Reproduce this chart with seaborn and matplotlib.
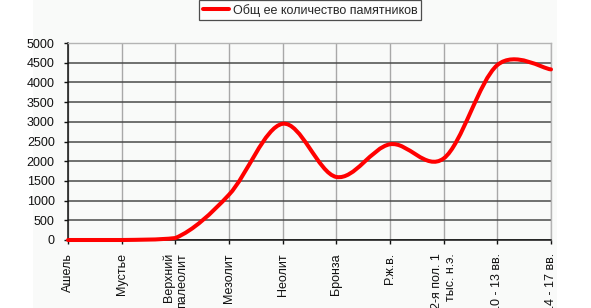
import numpy as np
import matplotlib
matplotlib.use("Agg")
import matplotlib.pyplot as plt
from matplotlib.path import Path
from matplotlib.patches import PathPatch, Rectangle
from matplotlib.lines import Line2D
import seaborn as sns

categories = ["Ашель", "Мустье", "Верхний\nпалеолит", "Мезолит", "Неолит",
              "Бронза", "Р.ж.в.", "2-я пол. 1\nтыс. н.э.", "10 - 13 вв.", "14 - 17 вв."]
values = [0, 0, 50, 1150, 2950, 1600, 2430, 2070, 4440, 4330]
yticks = [0, 500, 1000, 1500, 2000, 2500, 3000, 3500, 4000, 4500, 5000]
series_name = "Общ ее количество памятников"

sns.set_style("white")
plt.rcParams["font.family"] = ["Liberation Sans", "DejaVu Sans"]

W, H = 591, 308
fig = plt.figure(figsize=(W / 100, H / 100), dpi=100)
fig.patch.set_facecolor("white")
# faint chart-area background
fig.patches.append(Rectangle((33 / W, 0), (557 - 33) / W, 1, transform=fig.transFigure,
                             facecolor="#f9faf9", edgecolor="none", zorder=-10))

ax = fig.add_axes([68 / W, (H - 240) / H, (551 - 68) / W, (240 - 43) / H])
ax.set_facecolor("none")

xs = np.arange(len(values))
sns.lineplot(x=xs, y=values, ax=ax, linewidth=0, legend=False)

# Excel-style smoothed line (cubic Bezier segments through the data points)
pts = np.column_stack([xs, np.asarray(values, dtype=float)])
ymin = pts[:, 1].min()
n = len(pts)
verts = [tuple(pts[0])]
codes = [Path.MOVETO]
for i in range(n - 1):
    p_prev = pts[i - 1] if i > 0 else pts[i]
    p0 = pts[i]
    p1 = pts[i + 1]
    p_next = pts[i + 2] if i + 2 < n else pts[i + 1]
    c1 = p0 + (p1 - p_prev) / 6.0
    c2 = p1 - (p_next - p0) / 6.0
    c1[1] = max(c1[1], ymin)
    c2[1] = max(c2[1], ymin)
    verts += [tuple(c1), tuple(c2), tuple(p1)]
    codes += [Path.CURVE4] * 3
ax.add_patch(PathPatch(Path(verts, codes), facecolor="none", edgecolor="#ff0000",
                       linewidth=2.9, capstyle="round", joinstyle="round", zorder=5,
                       clip_on=False))

ax.set_xlim(0, len(values) - 1)
ax.set_ylim(0, 5000)
ax.set_xticks(xs)
ax.set_xticklabels(categories, rotation=90, ha="center", va="top",
                   multialignment="right", fontsize=9)
ax.set_yticks(yticks)
ax.set_yticklabels([str(v) for v in yticks], fontsize=9)

ax.set_axisbelow(True)
ax.yaxis.grid(True, color="#4a4a4a", linewidth=1.1)
ax.xaxis.grid(True, color="#a8a8a8", linewidth=1.0)

for s in ["top", "right"]:
    ax.spines[s].set_color("#b4b4b4")
    ax.spines[s].set_linewidth(1.0)
for s in ["left", "bottom"]:
    ax.spines[s].set_color("#111111")
    ax.spines[s].set_linewidth(1.1)

ax.tick_params(axis="y", which="both", left=True, length=3, width=1, color="#111111",
               pad=6.5, labelcolor="#111111")
ax.tick_params(axis="x", which="both", bottom=True, length=3, width=1, color="#111111",
               pad=6.5, labelcolor="#111111")

handle = Line2D([0], [0], color="#ff0000", linewidth=2.9)
leg = fig.legend([handle], [series_name], loc="upper center",
                 bbox_to_anchor=(310 / W, 1.0), frameon=True, fancybox=False,
                 edgecolor="#222222", fontsize=9, handlelength=2.1,
                 handletextpad=0.3, borderpad=0.3, borderaxespad=0)
leg.get_frame().set_linewidth(0.9)
leg.get_frame().set_facecolor("white")

fig.savefig("out.png", dpi=100)
